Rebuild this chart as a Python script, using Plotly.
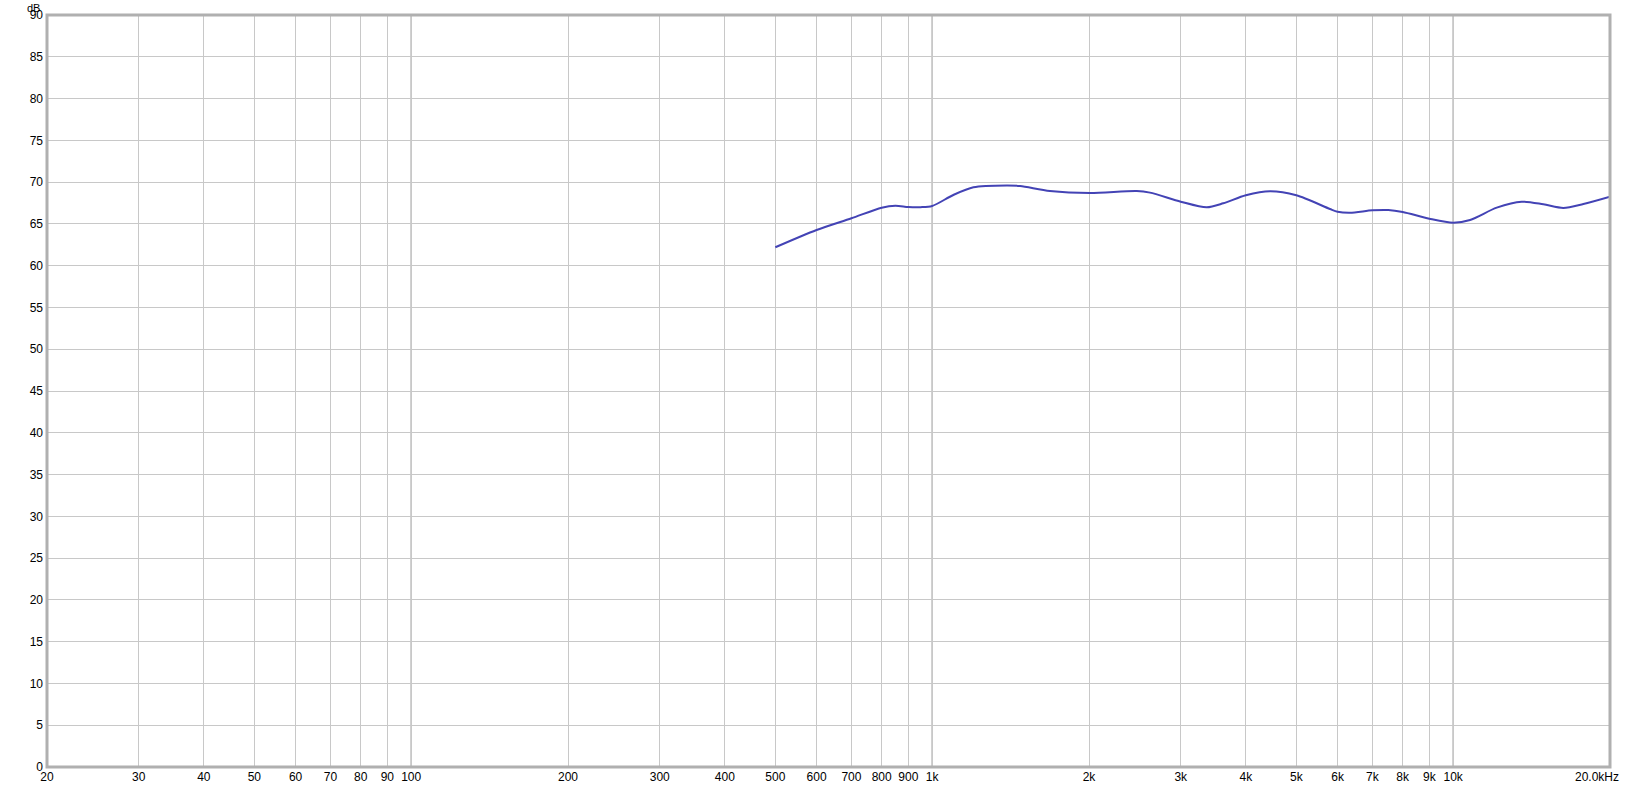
import math
import plotly.graph_objects as go

# Frequency response (Hz, dB)
freq_hz = [500, 600, 700, 800, 850, 900, 950, 1000, 1098, 1200, 1390, 1475, 1683,
           2009, 2470, 2619, 3000, 3364, 3620, 4000, 4452, 5000, 5802, 6000, 6340,
           7000, 7508, 8000, 9000, 10000, 10775, 12123, 13538, 14896, 16272, 17777, 20000]
level_db = [62.2, 64.27, 65.67, 66.94, 67.18, 67.02, 67.0, 67.14, 68.46, 69.38, 69.6, 69.53, 68.94,
            68.7, 68.94, 68.74, 67.66, 66.98, 67.46, 68.42, 68.9, 68.42, 66.78, 66.46, 66.34,
            66.62, 66.66, 66.42, 65.62, 65.14, 65.47, 66.94, 67.66, 67.34, 66.9, 67.38, 68.26]

x_tick_vals = [20, 30, 40, 50, 60, 70, 80, 90, 100, 200, 300, 400, 500, 600, 700, 800, 900,
               1000, 2000, 3000, 4000, 5000, 6000, 7000, 8000, 9000, 10000, 20000]
x_tick_text = ["20", "30", "40", "50", "60", "70", "80", "90", "100", "200", "300", "400", "500",
               "600", "700", "800", "900", "1k", "2k", "3k", "4k", "5k", "6k", "7k", "8k", "9k",
               "10k", ""]
last_tick_label = "20.0kHz"
last_tick_val = 20000
y_tick_vals = list(range(0, 91, 5))
major_grid = [100, 1000, 10000]

font = dict(family="Liberation Sans, Arial, sans-serif", size=12, color="#000000")

fig = go.Figure()
fig.add_trace(go.Scatter(x=freq_hz, y=level_db, mode="lines",
                         line=dict(color="#4343B5", width=2, shape="spline", smoothing=0.8),
                         hoverinfo="x+y", showlegend=False))

for f in major_grid:
    fig.add_shape(type="line", xref="x", yref="paper", x0=f, x1=f, y0=0, y1=1,
                  line=dict(color="#7A7A7A", width=1), layer="between")

# plot frame
fig.add_shape(type="rect", xref="paper", yref="paper", x0=0, x1=1, y0=0, y1=1,
              line=dict(color="#B0B0B0", width=3), layer="above")

fig.add_annotation(text="dB", xref="paper", yref="paper", x=0, y=1, xanchor="right",
                   yanchor="bottom", xshift=-5, yshift=-1, showarrow=False,
                   font=dict(family=font["family"], size=11, color="#000000"))
fig.add_annotation(text=last_tick_label, xref="x", yref="paper", x=math.log10(last_tick_val),
                   y=0, xanchor="center", yanchor="top", xshift=-13, yshift=-1,
                   showarrow=False, font=font)

fig.update_layout(
    width=1633, height=789,
    margin=dict(l=47, r=23, t=15, b=22, autoexpand=False),
    paper_bgcolor="#FFFFFF", plot_bgcolor="#FFFFFF",
    font=font,
    xaxis=dict(type="log", range=[1.30103, 4.30103], tickvals=x_tick_vals, ticktext=x_tick_text,
               showgrid=True, gridcolor="#C8C8C8", gridwidth=1, zeroline=False, automargin=False,
               showline=False, ticks="", tickfont=font, ticklabelstandoff=1),
    yaxis=dict(range=[0, 90], tickvals=y_tick_vals, showgrid=True, gridcolor="#C8C8C8",
               gridwidth=1, zeroline=False, showline=False, ticks="", tickfont=font,
               automargin=False, ticklabelstandoff=3),
)

fig.write_html("out.html", config={"displayModeBar": False},
               post_script="document.body.style.margin='0px';document.body.style.overflow='hidden';")
